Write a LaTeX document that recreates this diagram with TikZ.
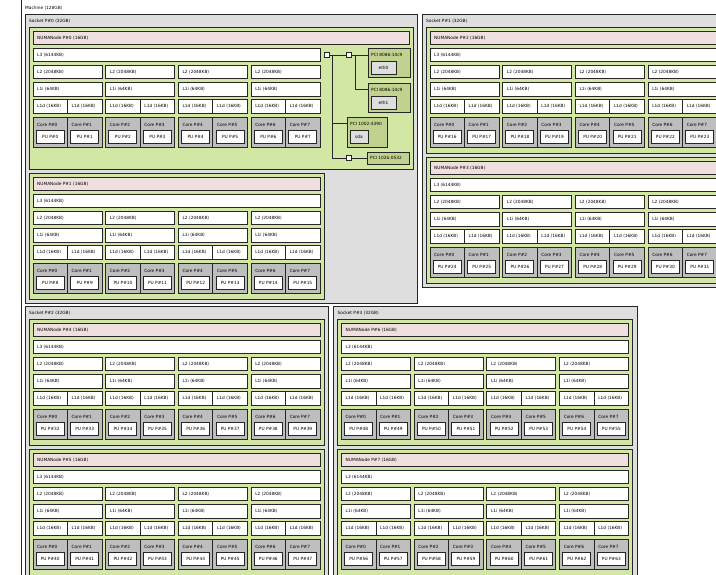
\documentclass[tikz,border=0pt]{standalone}
\usepackage{fontspec}
\setmainfont{DejaVu Sans}
\usepackage{tikz}
\usetikzlibrary{positioning,calc}
\definecolor{socketgray}{RGB}{222,222,222}
\definecolor{numagreen}{RGB}{210,231,164}
\definecolor{numapink}{RGB}{239,223,222}
\definecolor{coregray}{RGB}{190,190,190}
\definecolor{pcigreen}{RGB}{192,210,142}
\definecolor{osdevgray}{RGB}{222,222,222}

\begin{document}
\begin{tikzpicture}[x=1pt,y=-1pt,
    font=\fontsize{4.3}{5}\selectfont,
    box/.style={draw=black!85,line width=1pt,anchor=north west,inner sep=0pt,outer sep=0pt},
    cache/.style={box,fill=white,minimum height=13.5},
    txt/.style={anchor=west,inner sep=0pt},
    link/.style={draw=black!85,line width=1pt},
    bridge/.style={box,anchor=center,fill=white,minimum size=5}]
    \useasboundingbox (0,0) rectangle (716,574);
    \clip (0,0) rectangle (716,574);

    % Machine
    \node[box,fill=white,minimum width=720,minimum height=600] (machine) at (21,-2) {};
    \node[txt] (machinelbl) at (25,8) {Machine (128GB)};

    % Sockets
    \foreach \sk/\sx/\sy/\sw/\sh in {0/25/14/392/289,1/422/14/303/273,2/25/306/303/273,3/333.5/306/303.5/273} {
        \node[box,fill=socketgray,minimum width=\sw,minimum height=\sh] (sock\sk) at (\sx,\sy) {};
        \node[txt] (socklbl\sk) at (\sx+4,\sy+7) {Socket P\#\sk\ (32GB)};
    }

    % NUMA nodes with caches, cores and PUs
    \foreach \n/\nx/\ny/\nw/\nh/\pu in {0/29/27/384/142/0,1/29/173/295/126/8,2/426/27/295/126/16,3/426/157/295/126/24,4/29/319/295/126/32,5/29/449/295/126/40,6/337.5/319/295/126/48,7/337.5/449/295/126/56} {
        \node[box,fill=numagreen,minimum width=\nw,minimum height=\nh] (numa\n) at (\nx,\ny) {};
        \node[cache,fill=numapink,minimum width=\nw-8] (numabar\n) at (\nx+4,\ny+4) {};
        \node[txt] (numalbl\n) at (\nx+8,\ny+10.75) {NUMANode P\#\n\ (16GB)};
        \node[cache,minimum width=287] (l3-\n) at (\nx+4,\ny+21.2) {};
        \node[txt] (l3lbl-\n) at (\nx+8,\ny+27.95) {L3 (6144KB)};
        \foreach \g [evaluate=\g as \gx using \nx+4+72.7*\g] in {0,...,3} {
            \node[cache,minimum width=69] (l2-\n-\g) at (\gx,\ny+38.4) {};
            \node[txt] (l2lbl-\n-\g) at (\gx+4,\ny+45.15) {L2 (2048KB)};
            \node[cache,minimum width=69] (l1i-\n-\g) at (\gx,\ny+55.6) {};
            \node[txt] (l1ilbl-\n-\g) at (\gx+4,\ny+62.35) {L1i (64KB)};
            \foreach \mc [evaluate=\mc as \cid using int(2*\g+\mc),
                          evaluate=\mc as \pid using int(\pu+2*\g+\mc)] in {0,1} {
                \node[cache,minimum width=34.5] (l1d-\n-\cid) at (\gx+34.5*\mc,\ny+72.8) {};
                \node[txt] (l1dlbl-\n-\cid) at (\gx+34.5*\mc+4,\ny+79.55) {L1d (16KB)};
                \node[box,fill=coregray,minimum width=34.5,minimum height=30] (core-\n-\cid) at (\gx+34.5*\mc,\ny+90) {};
                \node[txt] (corelbl-\n-\cid) at (\gx+34.5*\mc+4,\ny+98) {Core P\#\cid};
                \node[box,fill=white,minimum width=28,minimum height=13] (pu-\n-\cid) at (\gx+34.5*\mc+3.25,\ny+103) {};
                \node[inner sep=0pt] (pulbl-\n-\cid) at (pu-\n-\cid) {PU P\#\pid};
            }
        }
    }

    % PCI tree of NUMANode P#0
    \node[bridge] (hostbr) at (326.5,55) {};
    \node[bridge] (pcibr) at (348.5,55) {};
    \node[bridge] (pcibr2) at (348.5,158) {};
    \node[box,fill=pcigreen,minimum width=42,minimum height=29] (pci1) at (368,48) {};
    \node[txt] (pci1lbl) at (371,55) {PCI 8086:10c9};
    \node[box,fill=osdevgray,minimum width=25,minimum height=13] (eth0) at (371,61.5) {};
    \node[inner sep=0pt] (eth0lbl) at (eth0) {eth0};
    \node[box,fill=pcigreen,minimum width=42,minimum height=29] (pci2) at (368,83) {};
    \node[txt] (pci2lbl) at (371,89.5) {PCI 8086:10c9};
    \node[box,fill=osdevgray,minimum width=25,minimum height=13] (eth1) at (371,96.5) {};
    \node[inner sep=0pt] (eth1lbl) at (eth1) {eth1};
    \node[box,fill=pcigreen,minimum width=40,minimum height=30] (pci3) at (347,117) {};
    \node[txt] (pci3lbl) at (350,123.5) {PCI 1002:4390};
    \node[box,fill=osdevgray,minimum width=18,minimum height=13] (sda) at (350,130) {};
    \node[inner sep=0pt] (sdalbl) at (sda) {sda};
    \node[box,fill=pcigreen,minimum width=42,minimum height=12] (pci4) at (367,152) {};
    \node[txt] (pci4lbl) at (370,158) {PCI 102b:0532};

    \coordinate (hostbus) at (332.5,55);
    \coordinate (pcibus) at (355,55);
    \draw[link] (hostbr) -- (pcibr);
    \draw[link] (pcibr) -- (pcibr -| pci1.west);
    \draw[link] (pcibus) |- (pci2.west |- pci2lbl);
    \draw[link] (hostbus) |- (pci3.west |- pci3lbl);
    \draw[link] (hostbus) |- (pcibr2);
    \draw[link] (pcibr2) -- (pci4);
\end{tikzpicture}
\end{document}
